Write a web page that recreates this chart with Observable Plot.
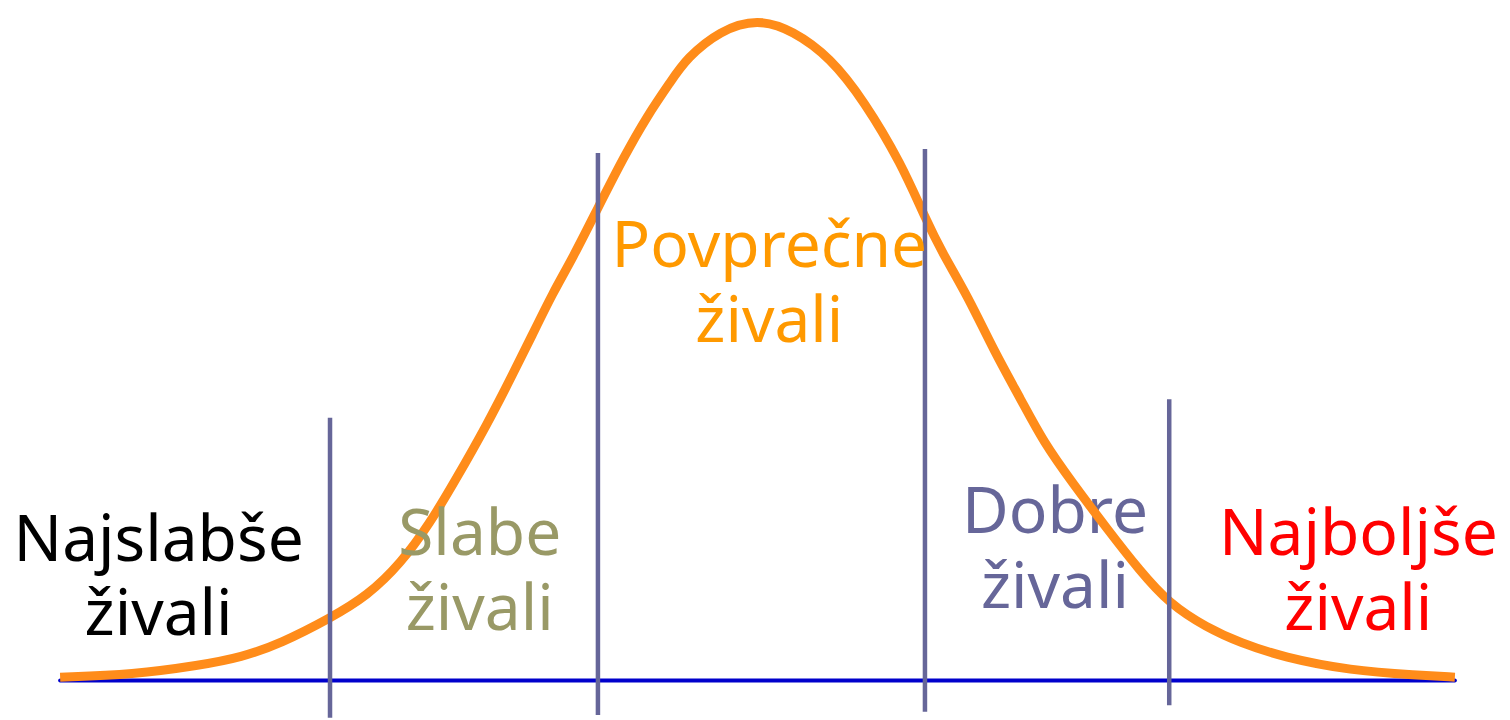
<!DOCTYPE html>
<html>
<head>
<meta charset="utf-8">
<script src="https://cdn.jsdelivr.net/npm/d3@7"></script>
<script src="https://cdn.jsdelivr.net/npm/@observablehq/plot@0.6"></script>
<style>
  html, body { margin: 0; padding: 0; background: #fff; }
  #chart svg { display: block; }
</style>
</head>
<body>
<div id="chart"></div>
<script>
// Curve: x in SD units, y relative frequency (peak = 1)
const curveX = [-3.54,-3.17,-2.83,-2.62,-2.42,-2.17,-1.98,-1.81,-1.66,-1.54,-1.37,-1.24,-1.14,-1.04,-0.94,-0.81,-0.68,-0.56,-0.44,-0.36,-0.19,0,0.18,0.37,0.54,0.73,0.85,0.94,1.07,1.20,1.34,1.45,1.60,1.78,1.94,2.09,2.28,2.45,2.67,3.01,3.35,3.54];
const curveY = [0.005,0.009,0.023,0.035,0.056,0.094,0.128,0.177,0.239,0.299,0.388,0.464,0.524,0.585,0.637,0.714,0.790,0.853,0.905,0.940,0.982,1.0,0.982,0.941,0.876,0.781,0.699,0.645,0.579,0.498,0.423,0.361,0.298,0.227,0.166,0.116,0.080,0.057,0.035,0.015,0.008,0.005];

// Class boundaries (x) and the extent of each divider line (y)
const cutX = [-2.17, -0.81, 0.85, 2.09];
const cutTop = [0.396, 0.796, 0.802, 0.424];
const cutBottom = [-0.057, -0.053, -0.048, -0.038];

// Baseline extent
const baseX = [-3.54, 3.54];

// Class labels
const labels = ["Najslabše\nživali", "Slabe\nživali", "Povprečne\nživali", "Dobre\nživali", "Najboljše\nživali"];
const labelX = [-3.04, -1.41, 0.06, 1.51, 3.05];
const labelY = [0.068, 0.076, 0.511, 0.110, 0.076];
const labelColors = ["#000000", "#999966", "#ff9900", "#666699", "#ff0000"];

const curve = curveX.map((x, i) => ({x, y: curveY[i]}));
const cuts = cutX.map((x, i) => ({x, y1: cutBottom[i], y2: cutTop[i]}));
const base = baseX.map(x => ({x, y: 0}));
const lab = labels.map((t, i) => ({t, x: labelX[i], y: labelY[i], c: labelColors[i]}));

const font = "'Noto Sans', 'DejaVu Sans', sans-serif";

const plot = Plot.plot({
  width: 1510,
  height: 720,
  margin: 0,
  style: {background: "#fff", fontFamily: font},
  x: {domain: [-3, 3], range: [166, 1348], axis: null},
  y: {domain: [0, 1], range: [680, 18], axis: null},
  marks: [
    Plot.line(base, {x: "x", y: "y", stroke: "#0000cc", strokeWidth: 4}),
    Plot.text(lab.filter(d => d.t.startsWith("Dobre")), {x: "x", y: "y", text: "t", fill: "c", fontSize: 64, lineHeight: 1.17, lineAnchor: "bottom", textAnchor: "middle", fontFamily: font}),
    Plot.line(curve, {x: "x", y: "y", stroke: "#ff8c1a", strokeWidth: 9, curve: "basis", strokeLinecap: "butt"}),
    Plot.ruleX(cuts, {x: "x", y1: "y1", y2: "y2", stroke: "#666699", strokeWidth: 4.5}),
    Plot.text(lab.filter(d => !d.t.startsWith("Dobre")), {x: "x", y: "y", text: "t", fill: "c", fontSize: 64, lineHeight: 1.17, lineAnchor: "bottom", textAnchor: "middle", fontFamily: font})
  ]
});
document.getElementById("chart").appendChild(plot);
</script>
</body>
</html>
